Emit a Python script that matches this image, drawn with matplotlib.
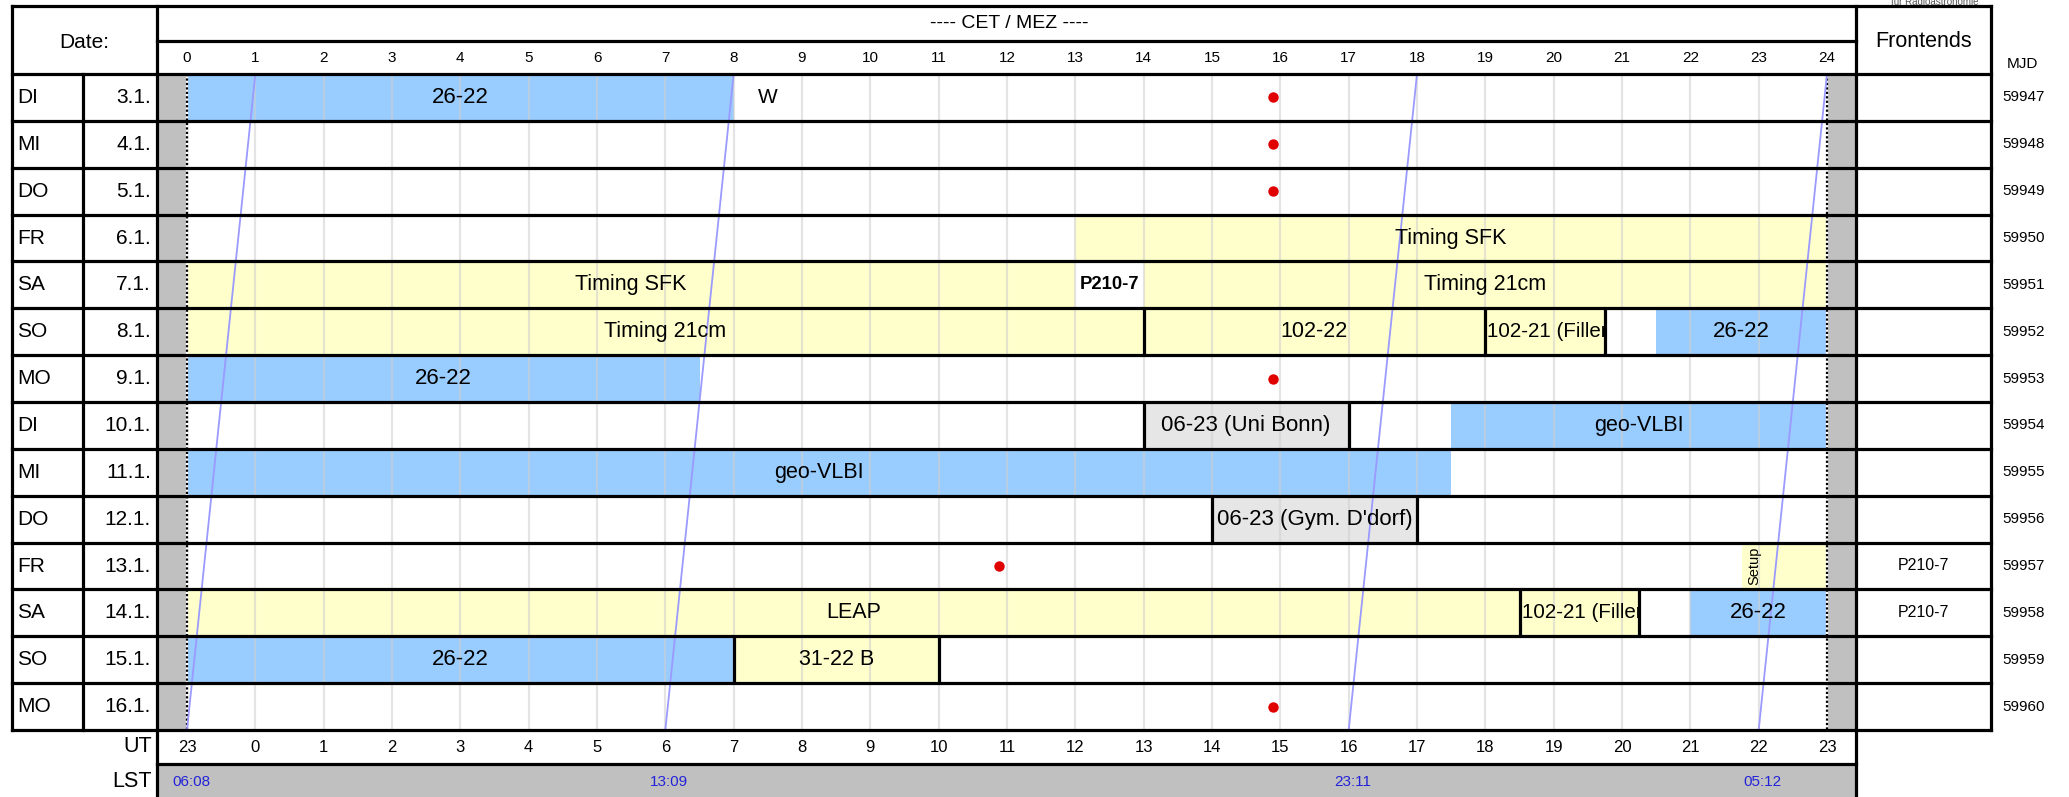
import matplotlib
matplotlib.use("Agg")
import matplotlib.pyplot as plt
from matplotlib.patches import Rectangle
from matplotlib.transforms import Bbox, TransformedBbox, blended_transform_factory

plt.rcParams['font.family'] = ['Liberation Sans', 'DejaVu Sans']

# ---------------- data ----------------
day_names = ['DI', 'MI', 'DO', 'FR', 'SA', 'SO', 'MO', 'DI', 'MI', 'DO', 'FR', 'SA', 'SO', 'MO']
dates = ['3.1.', '4.1.', '5.1.', '6.1.', '7.1.', '8.1.', '9.1.', '10.1.', '11.1.', '12.1.',
         '13.1.', '14.1.', '15.1.', '16.1.']
mjd = [59947, 59948, 59949, 59950, 59951, 59952, 59953, 59954, 59955, 59956,
       59957, 59958, 59959, 59960]
frontends = ['', '', '', '', '', '', '', '', '', '', 'P210-7', 'P210-7', '', '']

hours = list(range(0, 25))                    # CET hour ticks
ut_labels = [str((h - 1) % 24) for h in hours]  # UT = CET - 1

# scheduled blocks: row index, start hour (CET), end hour, label, kind
ev_row   = [0, 0, 3, 4, 4, 4, 5, 5, 5, 5, 6, 7, 7, 8, 9, 10, 11, 11, 11, 12, 12]
ev_start = [0, 8, 13, 0, 13, 14, 0, 14, 19, 21.5, 0, 14, 18.5, 0, 15, 22.75, 0, 19.5, 22, 0, 8]
ev_end   = [8, 9, 24, 13, 14, 24, 14, 19, 20.75, 24, 7.5, 17, 24, 18.5, 18, 24, 19.5, 21.25, 24, 8, 11]
ev_label = ['26-22', 'W', 'Timing SFK', 'Timing SFK', 'P210-7', 'Timing 21cm',
            'Timing 21cm', '102-22', '102-21 (Filler)', '26-22', '26-22',
            '06-23 (Uni Bonn)', 'geo-VLBI', 'geo-VLBI', "06-23 (Gym. D'dorf)", 'Setup',
            'LEAP', '102-21 (Filler)', '26-22', '26-22', '31-22 B']
ev_kind  = ['blue', 'none', 'yellow', 'yellow', 'white', 'yellow',
            'yellow', 'yellow', 'yellow', 'blue', 'blue',
            'grey', 'blue', 'blue', 'grey', 'yellow',
            'yellow', 'yellow', 'blue', 'blue', 'yellow']

# thick black block separators: row, hour
sep_row  = [5, 5, 5, 7, 7, 9, 9, 11, 11, 12, 12]
sep_hour = [14, 19, 20.75, 14, 17, 15, 18, 19.5, 21.25, 8, 11]

# red dots: row, hour
dot_row  = [0, 1, 2, 6, 10, 13]
dot_hour = [15.89, 15.89, 15.89, 15.89, 11.89, 15.89]

# LST lines: hour at top of first row and at bottom of last row
lst_top    = [1, 8, 18, 24]
lst_bottom = [0, 7, 17, 23]
lst_labels = ['06:08', '13:09', '23:11', '05:12']

# ---------------- styling ----------------
W, H = 2069, 797
fill = {'blue': '#99ccff', 'yellow': '#ffffcc', 'grey': '#e6e6e6', 'white': '#ffffff', 'none': None}
size_by_label = {'26-22': 16, 'P210-7': 13.3, 'Setup': 10.5, 'W': 15,
                 '06-23 (Uni Bonn)': 16, "06-23 (Gym. D'dorf)": 16, '102-21 (Filler)': 14.8}
left_aligned = {'102-21 (Filler)'}
LW = 2.3

fig = plt.figure(figsize=(W / 100, H / 100), dpi=100)

# pixel geometry of table
x_frame_l, x_day, x_date_r = 12, 83, 157
x_data_r, x_front_r = 1856, 1991
y_top, y_hdr_mid, y_hdr_b = 6, 41, 74
y_rows_b, y_ut_b, y_lst_b = 730, 764, 797
hx0, hx24 = 187, 1827
pph = (hx24 - hx0) / 24.0
xmin = -(hx0 - x_date_r) / pph
xmax = 24 + (x_data_r - hx24) / pph
nrows = len(day_names)
row_h = (y_rows_b - y_hdr_b) / nrows

def fx(x):
    return x / W

def fy(y):
    return 1 - y / H

# main schedule axes
ax = fig.add_axes([fx(x_date_r), fy(y_rows_b), fx(x_data_r - x_date_r), (y_rows_b - y_hdr_b) / H])
ax.set_xlim(xmin, xmax)
ax.set_ylim(nrows, 0)
ax.axis('off')
ax.set_zorder(1)

ax.axvspan(xmin, 0, color='#c0c0c0', zorder=0)
ax.axvspan(24, xmax, color='#c0c0c0', zorder=0)

for r, s, e, lab, k in zip(ev_row, ev_start, ev_end, ev_label, ev_kind):
    if fill[k] is not None:
        ax.add_patch(Rectangle((s, r), e - s, 1, facecolor=fill[k], edgecolor='none', zorder=1))
    fs = size_by_label.get(lab, 15.5)
    weight = 'bold' if k == 'white' else 'normal'
    if lab == 'Setup':
        t = ax.text(22.93, r + 0.5, lab, rotation=90, ha='center', va='center', fontsize=fs, zorder=5)
    elif lab in left_aligned:
        t = ax.text(s + 0.03, r + 0.5, lab, ha='left', va='center', fontsize=fs, zorder=5)
    else:
        t = ax.text((s + e) / 2, r + 0.5, lab, ha='center', va='center', fontsize=fs,
                    fontweight=weight, zorder=5)
    t.set_clip_box(TransformedBbox(Bbox([[s, r], [e, r + 1]]), ax.transData))
    t.set_clip_on(True)

# hour grid
ax.vlines(range(1, 24), 0, nrows, colors='#cfcfcf', linewidth=1.6, alpha=0.55, zorder=2)
# dotted day limits
ax.vlines([0, 24], 0, nrows, colors='white', linewidth=1.6, zorder=3)
ax.vlines([0, 24], 0, nrows, colors='black', linewidth=1.6, linestyles=(0, (1, 1)), zorder=3)

for r, h in zip(sep_row, sep_hour):
    ax.vlines(h, r, r + 1, colors='black', linewidth=LW, zorder=4)

ax.plot(dot_hour, [r + 0.5 for r in dot_row], 'o', color='#e00000', markersize=7.5,
        markeredgewidth=0, zorder=6)

for t0, b0 in zip(lst_top, lst_bottom):
    ax.plot([t0, b0], [0, nrows], color='#9a9aff', linewidth=1.3, zorder=4)

# overlay axes in pixel coordinates for the table
tb = fig.add_axes([0, 0, 1, 1])
tb.set_xlim(0, W)
tb.set_ylim(H, 0)
tb.axis('off')
tb.set_zorder(10)
tb.patch.set_alpha(0)

# LST grey row
tb.add_patch(Rectangle((x_date_r, y_ut_b), x_data_r - x_date_r, y_lst_b - y_ut_b + 5,
                       facecolor='#c0c0c0', edgecolor='none', zorder=0))

hl = dict(color='black', linewidth=LW, solid_capstyle='projecting', zorder=3)
tb.plot([x_frame_l, x_front_r], [y_top, y_top], **hl)
tb.plot([x_date_r, x_data_r], [y_hdr_mid, y_hdr_mid], **hl)
tb.plot([x_frame_l, x_front_r], [y_hdr_b, y_hdr_b], **hl)
for i in range(1, nrows + 1):
    yy = y_hdr_b + i * row_h
    tb.plot([x_frame_l, x_front_r], [yy, yy], **hl)
tb.plot([x_date_r, x_data_r], [y_ut_b, y_ut_b], **hl)
tb.plot([x_frame_l, x_frame_l], [y_top, y_rows_b], **hl)
tb.plot([x_day, x_day], [y_hdr_b, y_rows_b], **hl)
tb.plot([x_date_r, x_date_r], [y_top, H + 5], **hl)
tb.plot([x_data_r, x_data_r], [y_top, H + 5], **hl)
tb.plot([x_front_r, x_front_r], [y_top, y_rows_b], **hl)

# header texts
tb.text((x_frame_l + x_date_r) / 2, y_hdr_mid + 1, 'Date:', ha='center', va='center', fontsize=15)
tb.text((x_date_r + x_data_r) / 2 + 3, 23, '---- CET / MEZ ----', ha='center', va='center', fontsize=14)
tb.text((x_data_r + x_front_r) / 2, y_hdr_mid, 'Frontends', ha='center', va='center', fontsize=15.5)
tb.text(2022, 64, 'MJD', ha='center', va='center', fontsize=11)
tb.text(1935, 2, 'für Radioastronomie', ha='center', va='center', fontsize=7, color='#555555')

for i in range(nrows):
    yc = y_hdr_b + (i + 0.5) * row_h
    tb.text(17, yc, day_names[i], ha='left', va='center', fontsize=15)
    tb.text(151, yc, dates[i], ha='right', va='center', fontsize=15)
    tb.text(2024, yc, str(mjd[i]), ha='center', va='center', fontsize=11)
    if frontends[i]:
        tb.text((x_data_r + x_front_r) / 2, yc, frontends[i], ha='center', va='center', fontsize=11.5)

tb.text(152, (y_rows_b + y_ut_b) / 2, 'UT', ha='right', va='center', fontsize=15.5)
tb.text(152, (y_ut_b + y_lst_b) / 2 + 1, 'LST', ha='right', va='center', fontsize=15.5)

# hour labels (data x, pixel y)
trans = blended_transform_factory(ax.transData, tb.transData)
for h in hours:
    tb.text(h, (y_hdr_mid + y_hdr_b) / 2, str(h), transform=trans, ha='center', va='center', fontsize=11)
for h, lab in zip(hours, ut_labels):
    tb.text(h, (y_rows_b + y_ut_b) / 2, lab, transform=trans, ha='center', va='center', fontsize=12)
for b0, lab in zip(lst_bottom, lst_labels):
    tb.text(b0 + 0.06, (y_ut_b + y_lst_b) / 2 + 2, lab, transform=trans, ha='center', va='center',
            fontsize=11, color='#2323d8')

fig.savefig('out.png', dpi=100)
